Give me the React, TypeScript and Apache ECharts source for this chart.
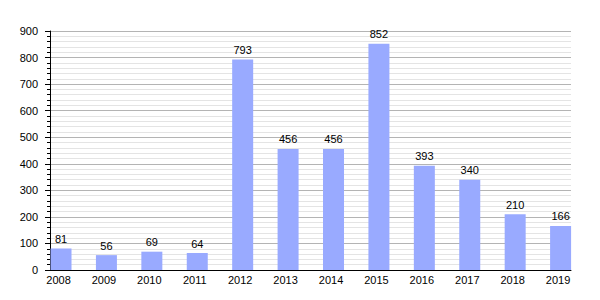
import React, { useEffect, useRef } from "react";
import * as echarts from "echarts";

const years = ["2008", "2009", "2010", "2011", "2012", "2013", "2014", "2015", "2016", "2017", "2018", "2019"];
const counts = [81, 56, 69, 64, 793, 456, 456, 852, 393, 340, 210, 166];

export default function App() {
  const ref = useRef<HTMLDivElement>(null);
  useEffect(() => {
    if (!ref.current) return;
    const chart = echarts.init(ref.current, null, { renderer: "svg" });
    const font = "Liberation Sans, Arial, sans-serif";
    chart.setOption({
      animation: false,
      grid: [
        { left: 50, right: 29, top: 31, bottom: 30 },
        { left: 38.3, right: 16.7, top: 31, bottom: 30 },
      ],
      xAxis: [
        {
          gridIndex: 0,
          type: "value",
          min: 0,
          max: 1,
          axisLine: { show: true, lineStyle: { color: "#000", width: 1 } },
          axisTick: { show: false },
          axisLabel: { show: false },
          splitLine: { show: false },
        },
        {
          gridIndex: 1,
          type: "category",
          data: years,
          axisLine: { show: false },
          axisTick: { show: false },
          axisLabel: { color: "#000", fontSize: 11, fontFamily: font, margin: 4, padding: [0, 5, 0, 0] },
          splitLine: { show: false },
        },
      ],
      yAxis: [
        {
          gridIndex: 0,
          type: "value",
          min: 0,
          max: 900,
          interval: 100,
          axisLine: { show: true, lineStyle: { color: "#000", width: 1 } },
          axisTick: { show: true, length: 5, lineStyle: { color: "#000" } },
          minorTick: { show: true, splitNumber: 5, length: 3, lineStyle: { color: "#000" } },
          axisLabel: { color: "#000", fontSize: 11, fontFamily: font, margin: 12 },
          splitLine: { show: true, lineStyle: { color: "#b4b4b4", width: 1 } },
          minorSplitLine: { show: true, lineStyle: { color: "#e4e4e4", width: 1 } },
        },
        {
          gridIndex: 1,
          type: "value",
          min: 0,
          max: 900,
          show: false,
          splitLine: { show: false },
        },
      ],
      series: [
        {
          type: "bar",
          xAxisIndex: 1,
          yAxisIndex: 1,
          data: counts,
          barWidth: 21,
          itemStyle: { color: "#99aaff" },
          label: {
            show: true,
            position: "top",
            distance: 4,
            color: "#000",
            fontSize: 11,
            fontFamily: font,
          },
        },
      ],
    });
    return () => chart.dispose();
  }, []);
  return <div ref={ref} style={{ width: 600, height: 300, position: "absolute", left: 0, top: 0 }} />;
}
